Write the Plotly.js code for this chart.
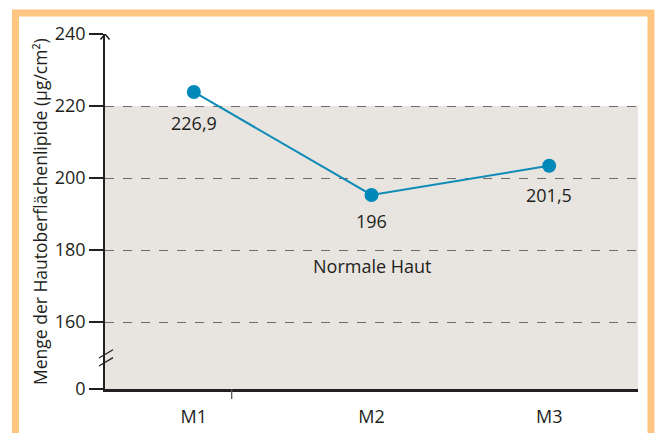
<!DOCTYPE html>
<html>
<head>
<meta charset="utf-8">
<script src="https://cdn.plot.ly/plotly-3.0.1.min.js"></script>
<style>html,body{margin:0;padding:0;background:#fff;}#chart{width:655px;height:433px;}</style>
</head>
<body>
<div id="chart"></div>
<script>
// Data
var categories = ["M1", "M2", "M3"];
var values = [223.9, 195.3, 203.4];          // plotted positions
var valueLabels = ["226,9", "196", "201,5"];   // printed labels
var yTickVals = [141.4, 160, 180, 200, 220, 240];
var yTickText = ["0", "160", "180", "200", "220", "240"];
var normalUpper = 220;  // top of "Normale Haut" band
var normalLabel = "Normale Haut";
var yTitle = "Menge der Hautoberflächenlipide (µg/cm²)";

var yMin = 141.4, yMax = 240;
var font = "Open Sans";
var txt = "#231f20";
var fs = 18;

// pixel -> paper helpers (plot area: left 105, right 638, top 34, bottom 389)
var L = 105, R = 638, T = 34, B = 389;
function px(x) { return (x - L) / (R - L); }
function py(y) { return (B - y) / (B - T); }

var labelShift = [-31, -26, -29];

var annotations = valueLabels.map(function (t, i) {
  return {x: categories[i], y: values[i], text: t, showarrow: false,
    yshift: labelShift[i], font: {family: font, size: fs, color: txt}};
});
annotations.push({x: categories[1], y: 175.6, text: normalLabel, showarrow: false,
  font: {family: font, size: fs, color: txt}});
annotations.push({xref: "paper", yref: "paper", x: px(40), y: py(212), text: yTitle,
  xanchor: "center", yanchor: "middle",
  textangle: -90, showarrow: false, font: {family: font, size: 17.5, color: txt}});

var shapes = [
  // normal skin band
  {type: "rect", xref: "paper", yref: "y", x0: 0, x1: 1, y0: yMin, y1: normalUpper,
   fillcolor: "#e8e4df", line: {width: 0}, layer: "below"},
  // axis arrow head
  {type: "path", xref: "paper", yref: "y",
   path: "M " + px(100.5) + " " + (240 - 5.5/3.6) + " L 0 240 L " + px(109.5) + " " + (240 - 5.5/3.6),
   line: {color: "#231f20", width: 1.5}},
  // axis break marks
  {type: "line", xref: "paper", yref: "y", x0: px(99), x1: px(113), y0: 151.0 - 1.0, y1: 151.0 + 1.3,
   line: {color: "#231f20", width: 1.3}},
  {type: "line", xref: "paper", yref: "y", x0: px(99), x1: px(113), y0: 148.8 - 1.0, y1: 148.8 + 1.3,
   line: {color: "#231f20", width: 1.3}},
  // single x tick
  {type: "line", xref: "x", yref: "paper", x0: 0.213, x1: 0.213, y0: 0, y1: py(399),
   line: {color: "#555", width: 1.3}},
  // orange frame
  {type: "rect", xref: "paper", yref: "paper", x0: px(15.5), x1: px(651), y0: py(13), y1: py(445),
   line: {color: "#ffc682", width: 7}, fillcolor: "rgba(0,0,0,0)", layer: "below"}
];

var trace = {
  x: categories, y: values, type: "scatter", mode: "lines+markers",
  line: {color: "#0f8bb8", width: 2},
  marker: {color: "#0088b9", size: 14},
  hoverinfo: "skip", cliponaxis: false
};

var layout = {
  width: 655, height: 433,
  margin: {l: L, r: 655 - R, t: T, b: 433 - B, pad: 0},
  paper_bgcolor: "#fff", plot_bgcolor: "rgba(0,0,0,0)",
  showlegend: false,
  font: {family: font, size: fs, color: txt},
  xaxis: {
    type: "category", range: [-0.5, 2.5], showgrid: false, zeroline: false,
    showline: true, linecolor: "#231f20", linewidth: 2.5,
    ticks: "", ticklabelstandoff: 10,
    tickfont: {family: font, size: fs, color: txt}, fixedrange: true
  },
  yaxis: {
    range: [yMin, yMax], tickmode: "array", tickvals: yTickVals, ticktext: yTickText,
    showgrid: true, gridcolor: "#6b6b6b", griddash: "dash", gridwidth: 1,
    zeroline: false, showline: true, linecolor: "#231f20", linewidth: 1.8,
    ticks: "outside", ticklen: 14, tickcolor: "#231f20", tickwidth: 1.5,
    tickfont: {family: font, size: fs, color: txt}, fixedrange: true
  },
  shapes: shapes,
  annotations: annotations
};

Plotly.newPlot("chart", [trace], layout, {displayModeBar: false, staticPlot: true});
</script>
</body>
</html>
